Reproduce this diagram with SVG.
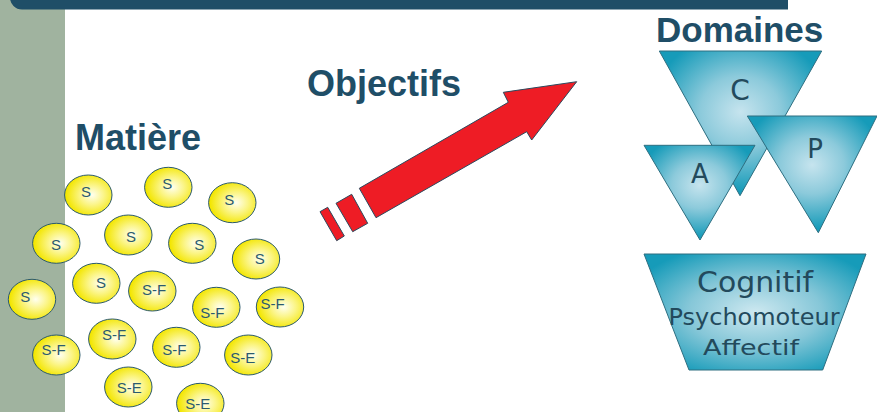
<svg xmlns="http://www.w3.org/2000/svg" width="877" height="412" viewBox="0 0 877 412">
<defs>
<radialGradient id="gTri" cx="0.5" cy="0.42" r="0.55">
<stop offset="0" stop-color="#C6E4EE"/>
<stop offset="0.45" stop-color="#8CCADB"/>
<stop offset="1" stop-color="#169BB9"/>
</radialGradient>
<radialGradient id="gTrap" cx="0.5" cy="0.5" r="0.6">
<stop offset="0" stop-color="#CDE8F0"/>
<stop offset="0.5" stop-color="#86C7D8"/>
<stop offset="1" stop-color="#169BB9"/>
</radialGradient>
<radialGradient id="gEll" cx="0.58" cy="0.5" r="0.55">
<stop offset="0" stop-color="#FFFFF0"/>
<stop offset="0.45" stop-color="#FBF588"/>
<stop offset="1" stop-color="#F3E600"/>
</radialGradient>
</defs>
<style>
.title{font-family:"Liberation Sans",Arial,sans-serif;font-weight:bold;fill:#1F4E67}
.ell{fill:url(#gEll);stroke:#2B5A6E;stroke-width:1}
.et{font-family:"Liberation Sans",Arial,sans-serif;font-size:15px;fill:#2B5A6E;text-anchor:middle}
.tri{fill:url(#gTri);stroke:#2E6E80;stroke-width:1}
.dt{font-family:"DejaVu Sans","Liberation Sans",sans-serif;fill:#234A5C;text-anchor:middle}
.arr{fill:#EE1C25;stroke:#2B4A5E;stroke-width:1}
</style>
<rect id="sidebar" x="0" y="0" width="65" height="412" fill="#A0B39F"/>
<path id="topbar" d="M10 0 H788 V9.5 H22 A12 12 0 0 1 10 -2.5 Z" fill="#1F4E67"/>
<text class="title" x="656" y="41.5" font-size="35">Domaines</text>
<text class="title" x="307" y="96" font-size="36">Objectifs</text>
<text class="title" x="75" y="150" font-size="36">Matière</text>
<g id="arrow">
<polygon class="arr" points="576.7,81.7 503.3,92.3 508.3,102.3 359.3,188.3 376,217.7 526.7,131.7 531.7,140"/>
<polygon class="arr" points="336,203.3 351.7,194.3 367.7,223.3 352.7,231.7"/>
<polygon class="arr" points="320,211.7 327.7,207.3 344.3,236 336.7,240.7"/>
</g>
<g id="triC"><polygon class="tri" points="659.3,51 821.7,51 740,195.7"/><text class="dt" x="740" y="100" font-size="28">C</text></g>
<g id="triA"><polygon class="tri" points="644,145.3 755,145.3 700,240"/><text class="dt" x="700" y="183" font-size="26">A</text></g>
<g id="triP"><polygon class="tri" points="747.3,116 877,116 818.3,232.7"/><text class="dt" x="815" y="158" font-size="26">P</text></g>
<g id="trap">
<polygon points="644,254 866,254 822.7,370 689,370" fill="url(#gTrap)" stroke="#2E6E80" stroke-width="1"/>
<text class="dt" x="755" y="292" font-size="29" textLength="116" lengthAdjust="spacingAndGlyphs">Cognitif</text>
<text class="dt" x="754" y="325" font-size="23" textLength="171" lengthAdjust="spacingAndGlyphs">Psychomoteur</text>
<text class="dt" x="751" y="355" font-size="22" textLength="96" lengthAdjust="spacingAndGlyphs">Affectif</text>
</g>
<g id="n1"><ellipse class="ell" cx="88.3" cy="195" rx="23.7" ry="20"/><text class="et" x="86" y="197">S</text></g>
<g id="n2"><ellipse class="ell" cx="168.3" cy="187.3" rx="23.7" ry="20"/><text class="et" x="167.3" y="188.7">S</text></g>
<g id="n3"><ellipse class="ell" cx="232.3" cy="202.7" rx="23.7" ry="20"/><text class="et" x="229.3" y="204.7">S</text></g>
<g id="n4"><ellipse class="ell" cx="56.3" cy="243.3" rx="23.7" ry="20"/><text class="et" x="56" y="249.7">S</text></g>
<g id="n5"><ellipse class="ell" cx="128.3" cy="235" rx="23.7" ry="20"/><text class="et" x="131" y="242">S</text></g>
<g id="n6"><ellipse class="ell" cx="192.3" cy="243.3" rx="23.7" ry="20"/><text class="et" x="199.3" y="249.7">S</text></g>
<g id="n7"><ellipse class="ell" cx="256" cy="259" rx="23.7" ry="20"/><text class="et" x="259.7" y="264.4">S</text></g>
<g id="n8"><ellipse class="ell" cx="96.3" cy="283.3" rx="23.7" ry="20"/><text class="et" x="101" y="287.7">S</text></g>
<g id="n9"><ellipse class="ell" cx="32" cy="299.3" rx="23.7" ry="20"/><text class="et" x="25.3" y="302">S</text></g>
<g id="n10"><ellipse class="ell" cx="152.3" cy="291" rx="23.7" ry="20"/><text class="et" x="154" y="294.7">S-F</text></g>
<g id="n11"><ellipse class="ell" cx="216.3" cy="307.3" rx="23.7" ry="20"/><text class="et" x="212.3" y="317.7">S-F</text></g>
<g id="n12"><ellipse class="ell" cx="280" cy="307" rx="23.7" ry="20"/><text class="et" x="272.7" y="309.4">S-F</text></g>
<g id="n13"><ellipse class="ell" cx="56.3" cy="355" rx="23.7" ry="20"/><text class="et" x="53.7" y="355.4">S-F</text></g>
<g id="n14"><ellipse class="ell" cx="112.3" cy="339" rx="23.7" ry="20"/><text class="et" x="114" y="340.4">S-F</text></g>
<g id="n15"><ellipse class="ell" cx="176.3" cy="347.3" rx="23.7" ry="20"/><text class="et" x="174.3" y="355.1">S-F</text></g>
<g id="n16"><ellipse class="ell" cx="248.3" cy="355" rx="23.7" ry="20"/><text class="et" x="242.7" y="362.7">S-E</text></g>
<g id="n17"><ellipse class="ell" cx="128.3" cy="387" rx="23.7" ry="20"/><text class="et" x="129.3" y="393.1">S-E</text></g>
<g id="n18"><ellipse class="ell" cx="200.3" cy="403.3" rx="23.7" ry="20"/><text class="et" x="197.7" y="408.7">S-E</text></g>
</svg>
